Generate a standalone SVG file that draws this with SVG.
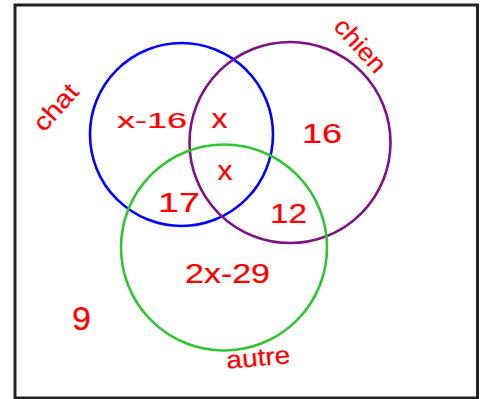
<svg xmlns="http://www.w3.org/2000/svg" width="485" height="399" viewBox="0 0 485 399">
<style>
.c{fill:none;stroke-width:2.6}
.t{fill:#ff0000;stroke:#ff0000;stroke-width:0.2;font-family:"Liberation Sans","DejaVu Sans",sans-serif;text-anchor:middle}
</style>
<rect x="0" y="0" width="485" height="399" fill="#fff"/>
<rect id="frame" x="15" y="5" width="462.5" height="393" fill="none" stroke="#222" stroke-width="3"/>
<g id="chat">
<circle class="c" cx="181.5" cy="134.5" r="91.5" stroke="#0000ff"/>
<text class="t" font-size="25" transform="translate(62,113) rotate(-48)" textLength="54" lengthAdjust="spacingAndGlyphs">chat</text>
</g>
<g id="chien">
<circle class="c" cx="290" cy="142.5" r="100.5" stroke="#7d1387"/>
<text class="t" font-size="25" transform="translate(354,51) rotate(48)" textLength="64" lengthAdjust="spacingAndGlyphs">chien</text>
</g>
<g id="autre">
<circle class="c" cx="224" cy="247.5" r="103" stroke="#33c433"/>
<text class="t" font-size="25" transform="translate(259,366) rotate(-5)" textLength="64" lengthAdjust="spacingAndGlyphs">autre</text>
</g>
<g id="regions">
<text class="t" font-size="22" x="152" y="128" textLength="70" lengthAdjust="spacingAndGlyphs">x-16</text>
<text class="t" font-size="28" x="219.5" y="128" textLength="16" lengthAdjust="spacingAndGlyphs">x</text>
<text class="t" font-size="28" x="322" y="143" textLength="40" lengthAdjust="spacingAndGlyphs">16</text>
<text class="t" font-size="28" x="225" y="180" textLength="15" lengthAdjust="spacingAndGlyphs">x</text>
<text class="t" font-size="28" x="179" y="212" textLength="42" lengthAdjust="spacingAndGlyphs">17</text>
<text class="t" font-size="28" x="288.5" y="223" textLength="37" lengthAdjust="spacingAndGlyphs">12</text>
<text class="t" font-size="27" x="227.5" y="283" textLength="85" lengthAdjust="spacingAndGlyphs">2x-29</text>
<text class="t" font-size="34" x="81.5" y="330">9</text>
</g>
</svg>
